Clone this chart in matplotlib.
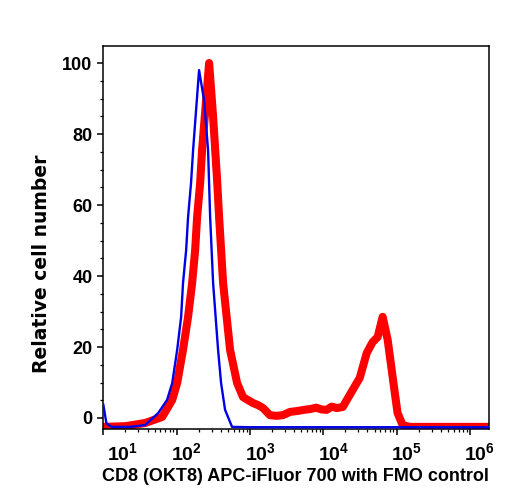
import matplotlib
matplotlib.use("Agg")
import matplotlib.pyplot as plt
import matplotlib.transforms as mtransforms
from matplotlib.ticker import FixedLocator, NullFormatter

plt.rcParams['font.family'] = ['Liberation Sans', 'DejaVu Sans']
plt.rcParams['font.weight'] = 'bold'
plt.rcParams['mathtext.fontset'] = 'custom'
plt.rcParams['mathtext.rm'] = 'Liberation Sans:bold'
plt.rcParams['mathtext.it'] = 'Liberation Sans:bold'
plt.rcParams['mathtext.bf'] = 'Liberation Sans:bold'

# FMO control (blue, thin)
fmo_x = [10, 11, 13, 23, 37, 56, 74, 87, 101.6, 115, 122, 134.6, 143, 157, 167.5,
         202, 236, 268, 286, 314, 367, 403, 457, 569, 1000, 1e4, 1e5, 1.82e6]
fmo_y = [3.7, -1.5, -2.5, -2.5, -2.0, 1.4, 5.1, 9.9, 19.2, 28.5, 38, 47.3, 56.6, 66.2, 75.5,
         98, 89.6, 75.5, 56.6, 38, 19.2, 9.9, 2.3, -2.5, -2.6, -2.6, -2.6, -2.6]

# CD8 stained (red, thick)
cd8_x = [10, 20, 37.3, 63.5, 87, 101.6, 122, 143, 162.5, 178.6, 190, 209, 222,
         277, 314, 356, 379, 430, 535, 666, 803, 1100, 1300, 1504, 1872, 2300, 2812,
         3500, 4500, 5500, 6546, 8000, 9500, 11160, 13000, 15270, 18420,
         22960, 31400, 39100, 47100, 55100, 64500, 75500, 88300, 103000,
         120800, 151000, 1.82e6]
cd8_y = [-2.5, -2.3, -1.4, 0.3, 5.1, 9.9, 19.2, 28.5, 38, 47.3, 56.6, 66.2, 75.5,
         100, 84.8, 67, 56.6, 38, 19.2, 9.9, 5.9, 4.2, 3.6, 2.8, 0.8, 0.6, 0.8,
         1.7, 2.0, 2.3, 2.5, 2.9, 2.4, 2.3, 3.2, 2.8, 3.1,
         6.5, 11.3, 18.3, 21.4, 22.8, 28.5, 22, 11.5, 1.4,
         -2.0, -2.5, -2.5]

y_ticks = [0, 20, 40, 60, 80, 100]
x_decades = [1, 2, 3, 4, 5, 6]

fig = plt.figure(figsize=(5.08, 5.0), dpi=100)
ax = fig.add_axes([103 / 508, 1 - 429 / 500, (489 - 103) / 508, (429 - 46) / 500])

ax.plot(cd8_x, cd8_y, color='#ff0000', lw=5.8, solid_joinstyle='round', zorder=2)
ax.plot(fmo_x, fmo_y, color='#0000e6', lw=1.7, zorder=3)

ax.set_xscale('log')
ax.set_xlim(10 ** 0.995, 10 ** 6.26)
ax.set_ylim(-3.1, 104.8)

ax.set_yticks(y_ticks)
ax.yaxis.set_minor_locator(FixedLocator(list(range(0, 105, 5))))
ax.xaxis.set_major_locator(FixedLocator([10.0 ** d for d in x_decades]))
minors = [m * 10.0 ** d for d in range(0, 7) for m in range(2, 10)]
ax.xaxis.set_minor_locator(FixedLocator(minors))
ax.xaxis.set_minor_formatter(NullFormatter())
ax.set_xticklabels([r'$10^{%d}$' % d for d in x_decades])

for s in ax.spines.values():
    s.set_linewidth(1.1)
ax.tick_params(axis='both', which='major', direction='out', length=4.5, width=1.1,
               labelsize=13)
ax.tick_params(axis='both', which='minor', direction='out', length=2.5, width=0.9)
ax.tick_params(axis='y', pad=3)
ax.tick_params(axis='x', pad=5, labelsize=14)

for i, lab in enumerate(ax.get_xticklabels()):
    dx = 19 if i == 0 else 10
    lab.set_transform(lab.get_transform() +
                      mtransforms.ScaledTranslation(dx / 100, 0, fig.dpi_scale_trans))

fig.text(295.5 / 508, 1 - 481 / 500, 'CD8 (OKT8) APC-iFluor 700 with FMO control',
         ha='center', va='baseline', fontsize=13, fontweight='bold')
fig.text(42 / 508, 1 - 264 / 500, 'Relative cell number', rotation=90,
         ha='center', va='center', fontsize=13.5, fontweight='bold',
         family='DejaVu Sans')

fig.savefig('out.png', dpi=100)
